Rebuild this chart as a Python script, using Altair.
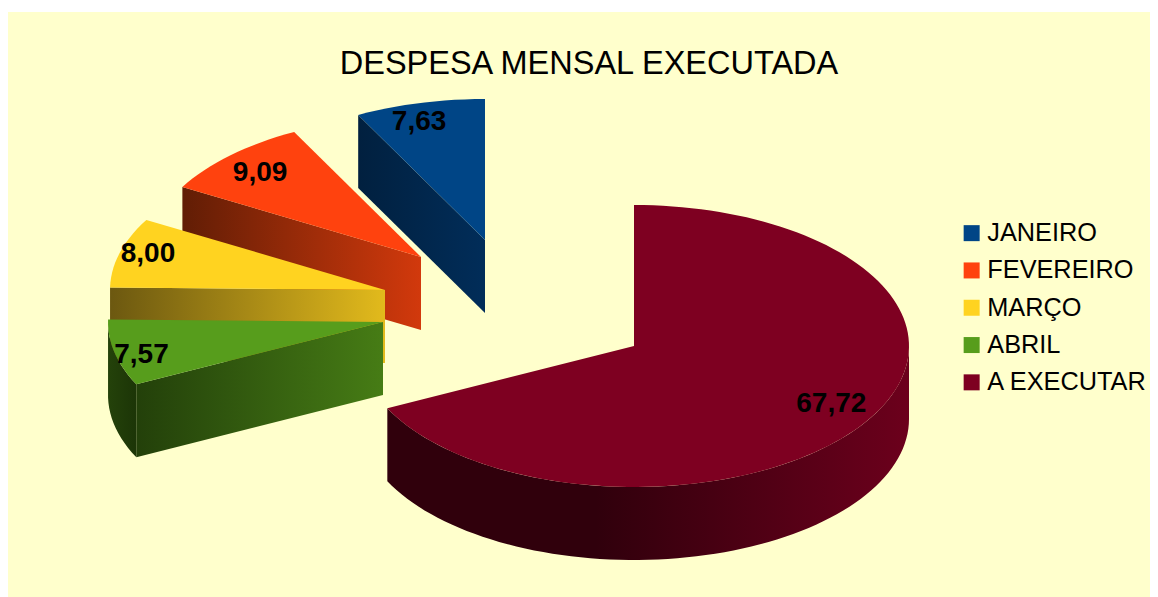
import math
import altair as alt
import pandas as pd

# --- data -----------------------------------------------------------------
MONTHS = ["JANEIRO", "FEVEREIRO", "MARÇO", "ABRIL", "A EXECUTAR"]
VALUES = [7.63, 9.09, 8.00, 7.57, 67.72]
LABELS = ["7,63", "9,09", "8,00", "7,57", "67,72"]
COLORS = ["#004586", "#ff420e", "#ffd320", "#579d1c", "#7e0021"]

# --- pie geometry (image pixels; the slices' angles come from VALUES) --------
RX, RY, DEPTH = 275, 141, 73
APEX = [(485, 240), (421, 257), (385, 290), (383, 322), (634, 346)]
LABEL_F = [(1.01, 0.865), (0.845, 0.826), (0.894, 0.97), (0.90, 1.07), (0.845, 0.78)]
WALLS = [
    [(0, "#01203f"), (1, "#012d59")],
    [(0, "#611d05"), (1, "#d2390c")],
    [(0, "#6c5810"), (1, "#e2ba1c")],
    [(0, "#23400a"), (1, "#467c15")],
    [(0, "#30000c"), (0.4, "#30000c"), (1, "#6c001c")],
]
RIM_ABRIL = [(0, "#24420a"), (1, "#1c3507")]

F = "Liberation Sans"
W, H = 1142, 585
X = alt.X("x:Q", scale=alt.Scale(domain=[8, 8 + W]), axis=None)
Y = alt.Y("y:Q", scale=alt.Scale(domain=[12 + H, 12]), axis=None)

# angles: clockwise from 12 o'clock, last month of the list first
total = sum(VALUES)
spans = {}
a = 0.0
for k in [4, 3, 2, 1, 0]:
    b = a + VALUES[k] / total * 360
    spans[k] = (a, b)
    a = b


def pt(k, deg, drop=0):
    cx, cy = APEX[k]
    t = math.radians(deg)
    return cx + RX * math.sin(t), cy - RY * math.cos(t) + drop


def arc(k, d0, d1, drop=0):
    n = max(2, int(abs(d1 - d0) / 2))
    return [pt(k, d0 + (d1 - d0) * i / n, drop) for i in range(n + 1)]


def frame(points, name=None):
    return pd.DataFrame(
        {"x": [p[0] for p in points], "y": [p[1] for p in points], "i": range(len(points)), "month": name}
    )


def gradient(stops):
    return alt.Gradient(
        gradient="linear", x1=0, x2=1, y1=0, y2=0,
        stops=[alt.GradientStop(offset=o, color=c) for o, c in stops],
    )


def wall(points, stops):
    return alt.Chart(frame(points)).mark_line(
        fill=gradient(stops), strokeWidth=0, interpolate="linear"
    ).encode(x=X, y=Y, order="i:Q")


def top(k):
    s0, s1 = spans[k]
    pts = [APEX[k]] + arc(k, s0, s1)
    return alt.Chart(frame(pts, MONTHS[k])).mark_line(strokeWidth=0, interpolate="linear").encode(
        x=X, y=Y, order="i:Q",
        fill=alt.Fill(
            "month:N",
            scale=alt.Scale(domain=MONTHS, range=COLORS),
            legend=alt.Legend(
                title=None, orient="none", legendX=951, legendY=208.5, symbolType="square",
                symbolSize=256, symbolStrokeWidth=0, labelFont=F, labelFontSize=25.3,
                labelColor="#000000", labelOffset=3, rowPadding=11.3, labelLimit=300,
                symbolOpacity=1,
            ),
        ),
    )


layers = []
for k in range(5):
    s0, s1 = spans[k]
    if k < 4:
        p = pt(k, s0)
        q = APEX[k]
        layers.append(wall([p, q, (q[0], q[1] + DEPTH), (p[0], p[1] + DEPTH)], WALLS[k]))
    if k == 3:
        rim = arc(k, s0, s1)
        layers.append(wall(rim + [(r[0], r[1] + DEPTH) for r in reversed(rim)], RIM_ABRIL))
    if k == 4:
        rim = arc(k, 90, s1)
        layers.append(wall(rim + [(r[0], r[1] + DEPTH) for r in reversed(rim)], WALLS[k]))
    layers.append(top(k))

rows = []
for k in range(5):
    s0, s1 = spans[k]
    mid = math.radians((s0 + s1) / 2)
    rows.append({
        "x": APEX[k][0] + LABEL_F[k][0] * RX * math.sin(mid),
        "y": APEX[k][1] - LABEL_F[k][1] * RY * math.cos(mid),
        "label": LABELS[k],
    })
text = alt.Chart(pd.DataFrame(rows)).mark_text(
    font=F, fontSize=28, fontWeight="bold", color="#000000", align="center", baseline="middle"
).encode(x=X, y=Y, text="label:N")

chart = (
    alt.layer(*layers, text)
    .resolve_scale(fill="shared")
    .properties(
        width=W, height=H,
        padding={"left": 0, "top": 4, "right": 0, "bottom": 0},
        autosize=alt.AutoSizeParams(type="none"),
        background="transparent",
        title=alt.TitleParams(
            "DESPESA MENSAL EXECUTADA", font=F, fontSize=32.5, fontWeight="normal",
            color="#000000", anchor="middle", offset=-68, dx=10,
        ),
    )
    .configure_view(fill="#ffffcc", stroke=None)
)
chart.save("out.html", embed_options={"renderer": "svg", "actions": False})
